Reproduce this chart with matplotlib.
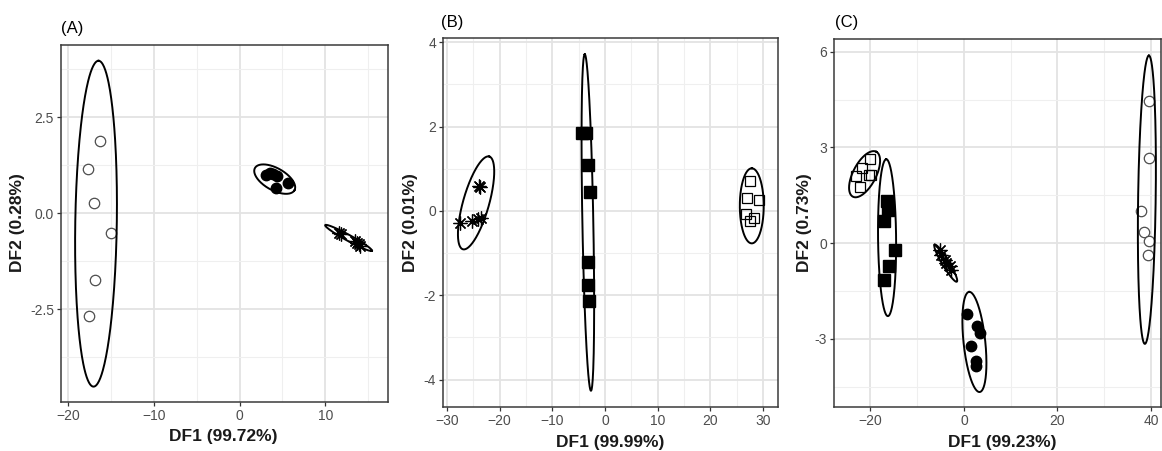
import numpy as np
import matplotlib
matplotlib.use('Agg')
import matplotlib.pyplot as plt
from matplotlib.ticker import FixedLocator, FormatStrFormatter

plt.rcParams['font.family'] = ['Liberation Sans', 'DejaVu Sans']

# ---- panel A (DF1 99.72%, DF2 0.28%) ----
a_open_x = [-16.3, -17.7, -16.9, -15.0, -16.8, -17.5]
a_open_y = [1.88, 1.16, 0.28, -0.52, -1.74, -2.66]
a_fill_x = [3.1, 3.5, 3.9, 4.4, 5.7, 4.2]
a_fill_y = [1.00, 1.05, 1.02, 0.96, 0.80, 0.65]
a_star_x = [11.6, 11.8, 13.5, 13.7, 13.9, 14.0]
a_star_y = [-0.51, -0.55, -0.72, -0.77, -0.80, -0.84]
# ellipses: centre x, centre y, half-axis vector u, conjugate half-axis vector v
a_open_ell = [-16.72, -0.27, 0.29, 4.24, 2.42, 0.0]
a_fill_ell = [4.10, 0.89, 2.30, -0.29, -0.635, -0.25]
a_star_ell = [12.70, -0.64, 2.72, -0.333, -0.168, -0.068]

# ---- panel B (DF1 99.99%, DF2 0.01%) ----
b_fsq_x = [-4.4, -3.6, -3.3, -2.8, -3.3, -3.3, -3.0]
b_fsq_y = [1.84, 1.84, 1.09, 0.46, -1.20, -1.75, -2.13]
b_osq_x = [27.6, 26.9, 29.2, 26.7, 28.3, 27.6]
b_osq_y = [0.70, 0.30, 0.25, -0.08, -0.16, -0.24]
b_star_x = [-23.9, -23.8, -27.6, -25.3, -24.2, -23.5]
b_star_y = [0.60, 0.56, -0.29, -0.24, -0.20, -0.17]
b_fsq_ell = [-3.26, -0.275, -0.59, 3.99, 1.04, 0.0]
b_osq_ell = [27.86, 0.12, 0.0, 0.89, 2.27, 0.0]
b_star_ell = [-24.48, 0.19, 2.50, 1.10, 2.37, -0.084]

# ---- panel C (DF1 99.23%, DF2 0.73%) ----
c_osq_x = [-20.0, -21.75, -20.3, -23.0, -22.3, -19.8]
c_osq_y = [2.63, 2.35, 2.14, 2.09, 1.75, 2.12]
c_fsq_x = [-16.5, -16.3, -17.1, -14.8, -16.1, -17.1]
c_fsq_y = [1.32, 1.04, 0.68, -0.23, -0.73, -1.15]
c_star_x = [-5.2, -4.84, -4.1, -3.77, -3.06, -2.7]
c_star_y = [-0.21, -0.37, -0.52, -0.63, -0.73, -0.84]
c_fill_x = [0.64, 2.87, 3.51, 1.43, 2.66, 2.66]
c_fill_y = [-2.22, -2.59, -2.82, -3.24, -3.71, -3.86]
c_open_x = [39.55, 39.6, 37.84, 38.55, 39.6, 39.4]
c_open_y = [4.47, 2.66, 1.02, 0.34, 0.08, -0.37]
c_osq_ell = [-21.26, 2.16, 2.5, 0.705, 2.18, -0.166]
c_fsq_ell = [-16.45, 0.17, -0.17, 2.46, 1.93, 0.0]
c_star_ell = [-3.9, -0.63, -2.37, 0.58, 0.64, 0.056]
c_fill_ell = [2.23, -3.10, -1.13, 1.57, 2.31, 0.034]
c_open_ell = [39.12, 1.36, 0.43, 4.52, 1.88, 0.0]

W, H = 1162, 451
fig = plt.figure(figsize=(W / 100, H / 100), dpi=100)


def px_axes(l, t, r, b):
    return fig.add_axes([l / W, 1 - b / H, (r - l) / W, (b - t) / H])


def style(ax, xmaj, xmin, ymaj, ymin, yfmt):
    ax.set_facecolor('white')
    ax.xaxis.set_major_locator(FixedLocator(xmaj))
    ax.xaxis.set_minor_locator(FixedLocator(xmin))
    ax.yaxis.set_major_locator(FixedLocator(ymaj))
    ax.yaxis.set_minor_locator(FixedLocator(ymin))
    ax.yaxis.set_major_formatter(FormatStrFormatter(yfmt))
    ax.grid(which='major', color='#E3E3E3', lw=1.3, zorder=0)
    ax.grid(which='minor', color='#EFEFEF', lw=0.8, zorder=0)
    ax.set_axisbelow(True)
    ax.tick_params(which='major', length=3, width=0.9, color='#333333',
                   labelcolor='#4D4D4D', labelsize=10, pad=2)
    ax.tick_params(which='minor', length=0)
    for s in ax.spines.values():
        s.set_color('#3A3A3A')
        s.set_linewidth(1.1)


def ellipse(ax, e):
    t = np.linspace(0, 2 * np.pi, 300)
    ax.plot(e[0] + e[2] * np.cos(t) + e[4] * np.sin(t),
            e[1] + e[3] * np.cos(t) + e[5] * np.sin(t),
            color='black', lw=1.4, zorder=4)


def open_circ(ax, x, y):
    ax.plot(x, y, 'o', ms=7.5, mfc='white', mec='#4D4D4D', mew=0.9, ls='none', zorder=3)


def fill_circ(ax, x, y):
    ax.plot(x, y, 'o', ms=7.5, mfc='black', mec='black', ls='none', zorder=3)


def open_sq(ax, x, y):
    ax.plot(x, y, 's', ms=7.5, mfc='none', mec='black', mew=0.9, ls='none', zorder=3)


def fill_sq(ax, x, y):
    ax.plot(x, y, 's', ms=8, mfc='black', mec='black', ls='none', zorder=3)


def stars(ax, x, y):
    ax.plot(x, y, marker=(8, 2, 0), ms=10, mec='black', mew=0.9, ls='none', zorder=3)


# panel A
axA = px_axes(61, 45, 388, 402)
style(axA, [-20, -10, 0, 10], [-15, -5, 5, 15], [-2.5, 0, 2.5], [-3.75, -1.25, 1.25, 3.75], '%.1f')
open_circ(axA, a_open_x, a_open_y)
fill_circ(axA, a_fill_x, a_fill_y)
stars(axA, a_star_x, a_star_y)
for e in (a_open_ell, a_fill_ell, a_star_ell):
    ellipse(axA, e)
axA.set_xlim(-20.8, 17.3)
axA.set_ylim(-4.91, 4.38)

# panel B
axB = px_axes(443, 38, 778, 407)
style(axB, [-30, -20, -10, 0, 10, 20, 30], [-25, -15, -5, 5, 15, 25],
      [-4, -2, 0, 2, 4], [-3, -1, 1, 3], '%d')
fill_sq(axB, b_fsq_x, b_fsq_y)
open_sq(axB, b_osq_x, b_osq_y)
stars(axB, b_star_x, b_star_y)
for e in (b_fsq_ell, b_osq_ell, b_star_ell):
    ellipse(axB, e)
axB.set_xlim(-30.76, 32.84)
axB.set_ylim(-4.65, 4.10)

# panel C
axC = px_axes(834, 39, 1161, 407)
style(axC, [-20, 0, 20, 40], [-30, -10, 10, 30], [-3, 0, 3, 6], [-4.5, -1.5, 1.5, 4.5], '%d')
open_sq(axC, c_osq_x, c_osq_y)
fill_sq(axC, c_fsq_x, c_fsq_y)
stars(axC, c_star_x, c_star_y)
fill_circ(axC, c_fill_x, c_fill_y)
open_circ(axC, c_open_x, c_open_y)
for e in (c_osq_ell, c_fsq_ell, c_star_ell, c_fill_ell, c_open_ell):
    ellipse(axC, e)
axC.set_xlim(-27.8, 42.14)
axC.set_ylim(-5.14, 6.40)

# labels
def ftext(x, y, s, **kw):
    fig.text(x / W, 1 - y / H, s, **kw)

lab = dict(fontsize=12.5, fontweight='bold', color='#1A1A1A', ha='center', va='center')
ftext(223, 437, 'DF1 (99.72%)', **lab)
ftext(610, 442, 'DF1 (99.99%)', **lab)
ftext(1002, 443, 'DF1 (99.23%)', **lab)
ftext(18, 223, 'DF2 (0.28%)', rotation=90, **lab)
ftext(411, 223, 'DF2 (0.01%)', rotation=90, **lab)
ftext(805, 223, 'DF2 (0.73%)', rotation=90, **lab)

tit = dict(fontsize=12, color='black', ha='left', va='center')
ftext(61, 28, '(A)', **tit)
ftext(441, 22, '(B)', **tit)
ftext(835, 22, '(C)', **tit)

fig.savefig('out.png', dpi=100, facecolor='white')
